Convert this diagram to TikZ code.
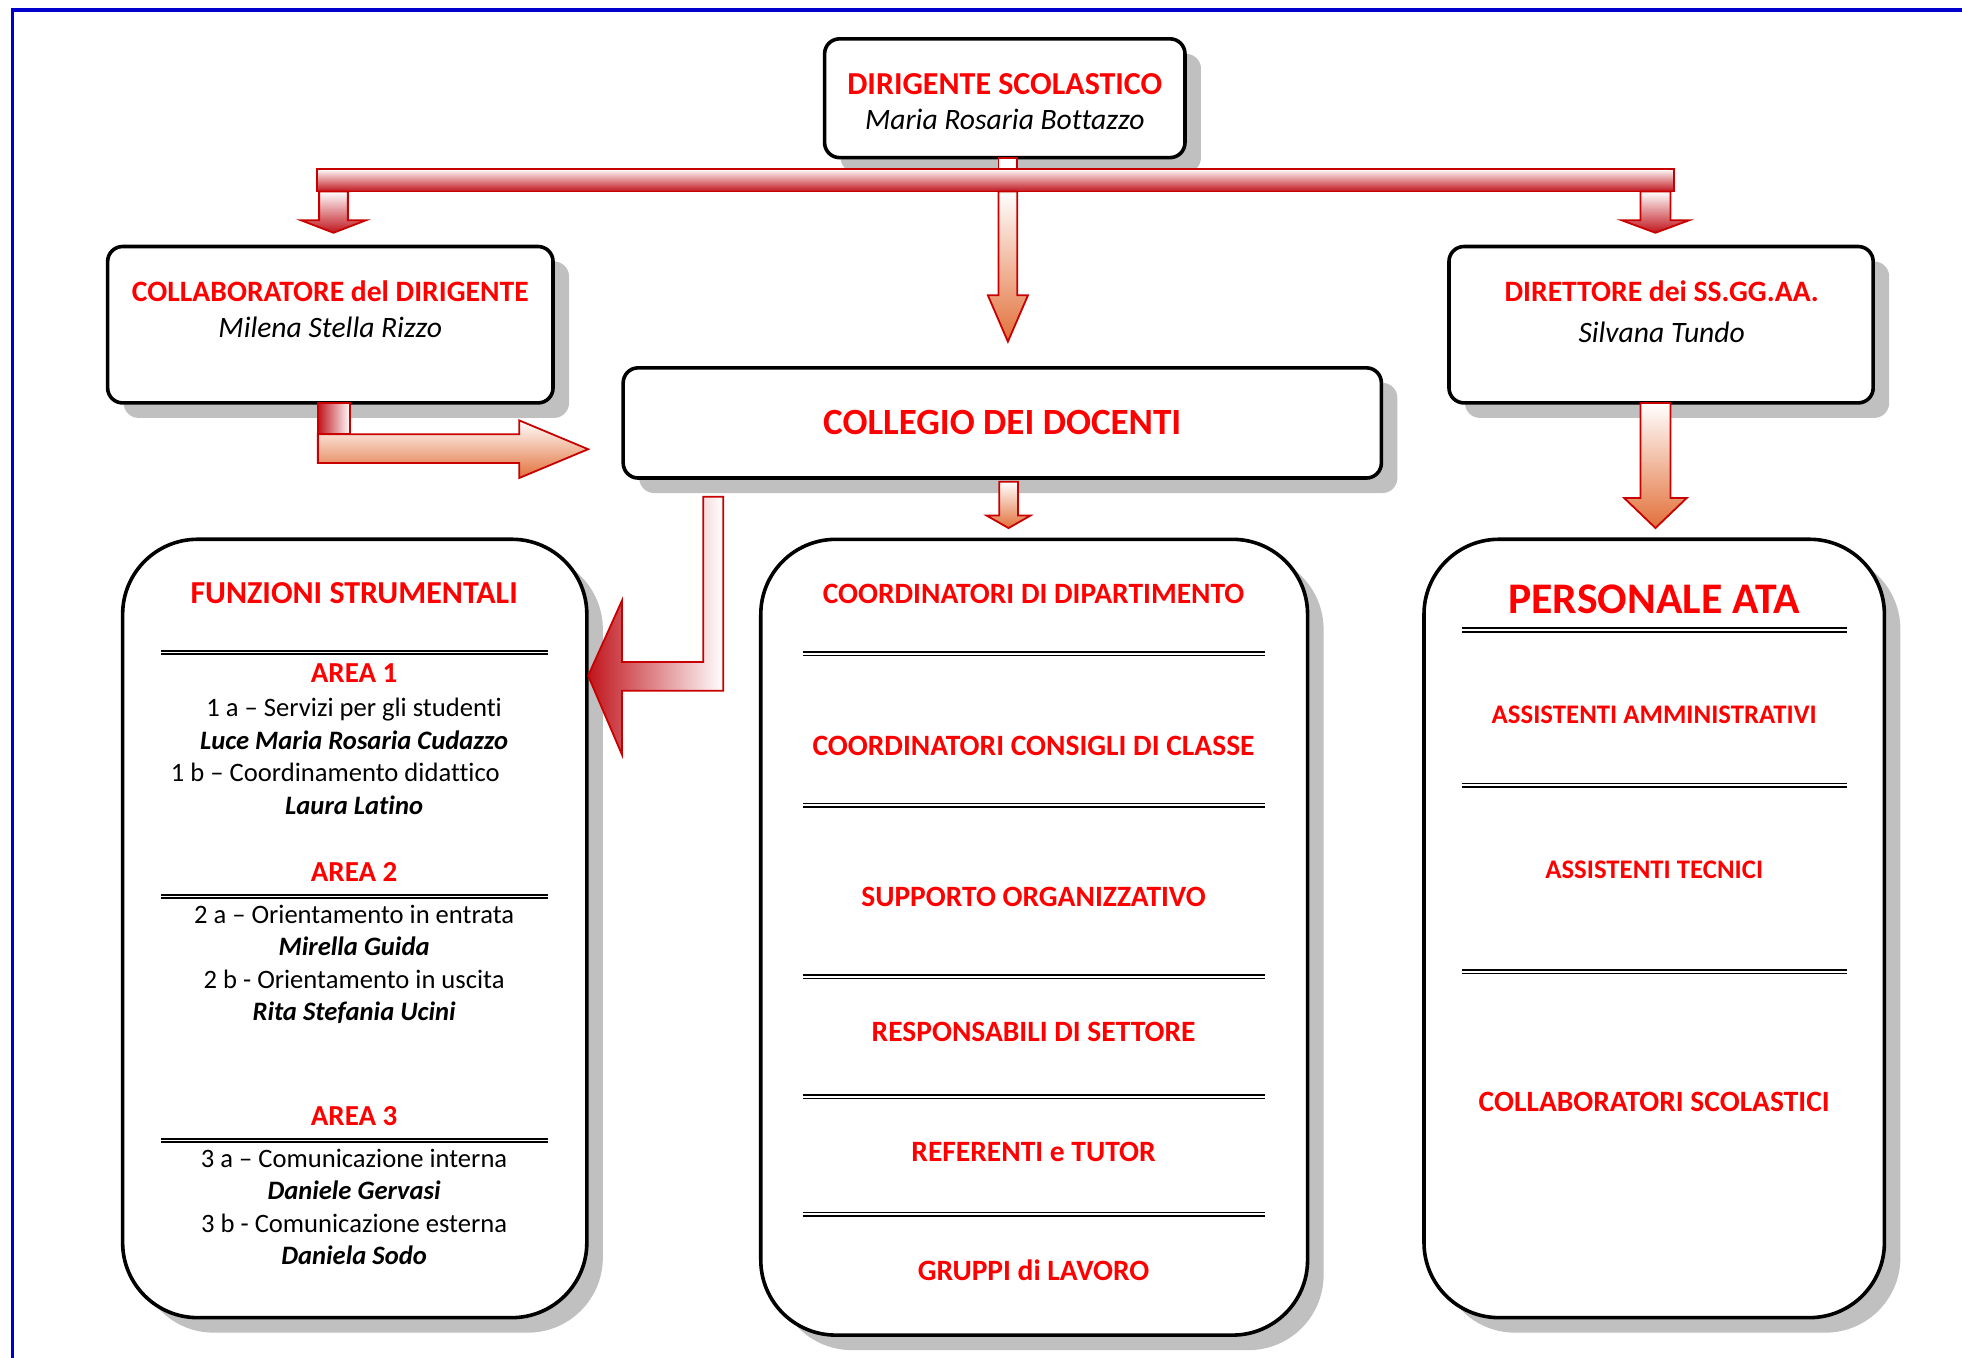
\documentclass[tikz,border=0pt]{standalone}
\usepackage{fontspec}
\setmainfont{Carlito}[Ligatures={TeX,NoCommon}]
\usetikzlibrary{shadows,calc}
\definecolor{tred}{HTML}{FF0000}
\definecolor{ared}{HTML}{C80000}
\definecolor{dred}{HTML}{C0141C}
\definecolor{aor}{HTML}{E2703A}
\definecolor{shd}{HTML}{C0C0C0}
\definecolor{fblue}{HTML}{0000CC}
\newcommand\dnarrow[6]{% #1 top centre, #2 shaft, #3 head, #4 half shaft, #5 half head, #6 colour
  \draw[arrline, top color=white, bottom color=#6] ($(#1)+(-#4,0)$) -- ++(2*#4,0) -- ++(0,#2) -- ++(#5-#4,0) -- ++(-#5,#3) -- ++(-#5,-#3) -- ++(#5-#4,0) -- cycle;}
\begin{document}
\begin{tikzpicture}[x=0.62565pt,y=-0.62565pt,
  card/.style={draw=black, line width=1.8pt, fill=white, rounded corners=7.5pt, inner sep=0pt, outer sep=0pt,
    drop shadow={shadow xshift=8pt, shadow yshift=-7.5pt, fill=shd, opacity=1}},
  bigcard/.style={card, rounded corners=37.5pt},
  arrline/.style={draw=ared, line width=0.9pt, line join=miter},
  dline/.style={draw=black, line width=0.85pt, double=white, double distance=0.9pt},
  txt/.style={inner sep=0pt, text depth=0pt, anchor=center},
  ttl/.style={txt, text=tred, text height=10.3pt, font=\bfseries\fontsize{16pt}{18pt}\selectfont},
  ttls/.style={txt, text=tred, text height=9.5pt, font=\bfseries\fontsize{14.8pt}{17pt}\selectfont},
  nme/.style={txt, text height=9.5pt, font=\itshape\fontsize{14.8pt}{17pt}\selectfont},
  area/.style={txt, text=tred, text height=9.3pt, font=\bfseries\fontsize{14.5pt}{17pt}\selectfont},
  reg/.style={txt, text height=8.6pt, font=\fontsize{13.3pt}{16pt}\selectfont},
  bi/.style={txt, text height=8.6pt, font=\bfseries\itshape\fontsize{13.3pt}{16pt}\selectfont},
  mid/.style={txt, text=tred, text height=9.5pt, font=\bfseries\fontsize{14.75pt}{17pt}\selectfont},
  sml/.style={txt, text=tred, text height=8.6pt, font=\bfseries\fontsize{13.4pt}{16pt}\selectfont}]
\useasboundingbox (0,0) rectangle (1568,1084.5);
\fill[white] (0,0) rectangle (1568,1084.5);
% frame
\draw[fblue, line width=1.6pt] (10,1090) -- (10,8) -- (1575,8);

% boxes
\node[card, minimum width=180.2pt, minimum height=59.4pt] (dir) at (803,78.5) {};
\node[card, minimum width=222.7pt, minimum height=78.2pt] (colla) at (264,259.5) {};
\node[card, minimum width=212.1pt, minimum height=78.2pt] (ssgg) at (1327.5,259.5) {};
\node[card, minimum width=379.1pt, minimum height=55.1pt] (collegio) at (801,338) {};
\node[bigcard, minimum width=232.1pt, minimum height=389.2pt] (funz) at (283.5,742) {};
\node[bigcard, minimum width=273.4pt, minimum height=397.9pt] (coord) at (826.5,749) {};
\node[bigcard, minimum width=230.2pt, minimum height=389.2pt] (ata) at (1322,742) {};

% bar and connectors
\node[arrline, top color=white, bottom color=dred, inner sep=0pt, outer sep=0pt,
  minimum width=678.8pt, minimum height=11.3pt] (bar) at (795.5,144) {};
\draw[arrline, fill=white] ($(dir.south)+(-5,0)$) rectangle ($(bar.north -| dir.south)+(10,0)$);
\coordinate (bl) at ($(bar.south west)+(13.5,0)$);
\coordinate (br) at ($(bar.south east)+(-15,0)$);
\coordinate (bm) at ($(bar.south -| dir.south)+(2.5,0)$);
\dnarrow{bl}{23}{10}{11.5}{26}{dred}
\dnarrow{br}{23}{10}{12}{27}{dred}
\dnarrow{bm}{83}{37}{7.5}{16}{aor}
\coordinate (cs) at ($(collegio.south)+(5,3)$);
\dnarrow{cs}{27}{10}{7.5}{17.5}{aor}
\coordinate (ds) at ($(ssgg.south)+(-4.5,0)$);
\dnarrow{ds}{76}{24}{12}{25}{aor}

% bent arrow collaboratore -> collegio
\coordinate (ca) at ($(colla.south west)+(168,0)$);
\draw[arrline, top color=white, bottom color=aor] ($(ca)+(0,25)$) -- ++(161,0) -- ++(0,-11) -- ++(55,23) -- ++(-55,23) -- ++(0,-12) -- ++(-161,0) -- cycle;
\draw[arrline, left color=dred, right color=white] (ca) rectangle ++(26,25);

% bent arrow collegio -> funzioni
\coordinate (cf) at ($(collegio.south west)+(64,15)$);
\draw[arrline, left color=dred, right color=white] (cf) -- ++(16,0) -- ++(0,155) -- ++(-81,0) -- ++(0,51) -- ++(-27,-63) -- ++(27,-60) -- ++(0,49) -- ++(65,0) -- cycle;

% top texts
\node[ttl] (t1) at (803,67) {DIRIGENTE SCOLASTICO};
\node[nme] (t2) at (803,96) {Maria Rosaria Bottazzo};
\node[ttls] (t3) at (264,233) {COLLABORATORE del DIRIGENTE};
\node[nme] (t4) at (264,262) {Milena Stella Rizzo};
\node[ttls] (t5) at (1328,233) {DIRETTORE dei SS.GG.AA.};
\node[nme] (t6) at (1328,266) {Silvana Tundo};
\node[txt, text=tred, text height=11.9pt, font=\bfseries\fontsize{18.5pt}{21pt}\selectfont] (t7) at (801,338) {COLLEGIO DEI DOCENTI};

% funzioni strumentali
\node[ttl] (f0) at (283,474) {FUNZIONI STRUMENTALI};
\draw[dline] (129,521.5) -- (438,521.5);
\node[area] (f1) at (283,538) {AREA 1};
\node[reg] (f2) at (283,566) {1 a – Servizi per gli studenti};
\node[bi] (f3) at (283,592) {Luce Maria Rosaria Cudazzo};
\node[reg] (f4) at (268,618) {1 b – Coordinamento didattico};
\node[bi] (f5) at (283,644) {Laura Latino};
\node[area] (f6) at (283,697) {AREA 2};
\draw[dline] (129,716.5) -- (438,716.5);
\node[reg] (f7) at (283,731) {2 a – Orientamento in entrata};
\node[bi] (f8) at (283,757) {Mirella Guida};
\node[reg] (f9) at (283,783) {2 b - Orientamento in uscita};
\node[bi] (f10) at (283,809) {Rita Stefania Ucini};
\node[area] (f11) at (283,892) {AREA 3};
\draw[dline] (129,911.5) -- (438,911.5);
\node[reg] (f12) at (283,926) {3 a – Comunicazione interna};
\node[bi] (f13) at (283,952) {Daniele Gervasi};
\node[reg] (f14) at (283,978) {3 b - Comunicazione esterna};
\node[bi] (f15) at (283,1004) {Daniela Sodo};

% coordinatori
\node[mid] (c1) at (826,475) {COORDINATORI DI DIPARTIMENTO};
\draw[dline] (642,522.5) -- (1011,522.5);
\node[mid] (c2) at (826,596) {COORDINATORI CONSIGLI DI CLASSE};
\draw[dline] (642,643.5) -- (1011,643.5);
\node[mid] (c3) at (826,717) {SUPPORTO ORGANIZZATIVO};
\draw[dline] (642,780.5) -- (1011,780.5);
\node[mid] (c4) at (826,825) {RESPONSABILI DI SETTORE};
\draw[dline] (642,876.5) -- (1011,876.5);
\node[mid] (c5) at (826,921) {REFERENTI e TUTOR};
\draw[dline] (642,970.5) -- (1011,970.5);
\node[mid] (c6) at (826,1016) {GRUPPI di LAVORO};

% personale ata
\node[txt, text=tred, text height=14.1pt, font=\bfseries\fontsize{21.85pt}{25pt}\selectfont] (a0) at (1322,479) {PERSONALE ATA};
\draw[dline] (1168,503.5) -- (1476,503.5);
\node[sml] (a1) at (1322,571) {ASSISTENTI AMMINISTRATIVI};
\draw[dline] (1168,627.5) -- (1476,627.5);
\node[sml] (a2) at (1322,695) {ASSISTENTI TECNICI};
\draw[dline] (1168,776.5) -- (1476,776.5);
\node[mid] (a3) at (1322,881) {COLLABORATORI SCOLASTICI};
\end{tikzpicture}
\end{document}
